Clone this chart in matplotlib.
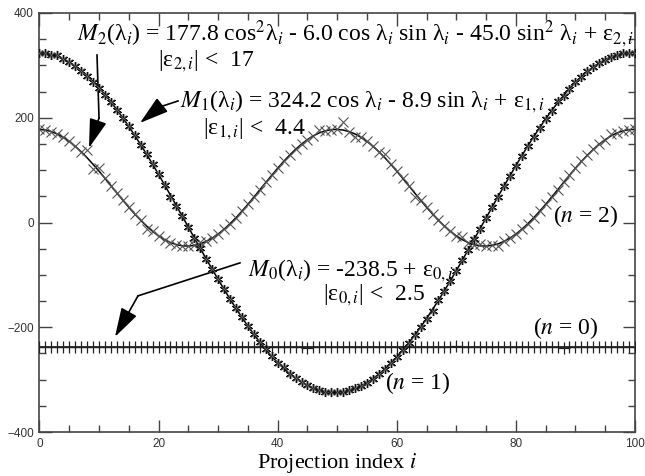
import numpy as np
import matplotlib
matplotlib.use("Agg")
import matplotlib.pyplot as plt

# ---------------- data ----------------
idx = list(range(0, 101))

m1_fit = [324.2, 323.0, 320.5, 316.8, 311.8, 305.6, 298.2, 289.6, 279.8, 269.0,
          257.1, 244.1, 230.2, 215.4, 199.8, 183.4, 166.2, 148.4, 130.0, 111.1,
          91.7, 72.0, 52.0, 31.8, 11.5, -8.9, -29.2, -49.5, -69.5, -89.3,
          -108.6, -127.6, -146.1, -164.0, -181.2, -197.8, -213.5, -228.4, -242.4, -255.5,
          -267.5, -278.5, -288.4, -297.1, -304.7, -311.1, -316.2, -320.1, -322.8, -324.1,
          -324.2, -323.0, -320.5, -316.8, -311.8, -305.6, -298.2, -289.6, -279.8, -269.0,
          -257.1, -244.1, -230.2, -215.4, -199.8, -183.4, -166.2, -148.4, -130.0, -111.1,
          -91.7, -72.0, -52.0, -31.8, -11.5, 8.9, 29.2, 49.5, 69.5, 89.3,
          108.6, 127.6, 146.1, 164.0, 181.2, 197.8, 213.5, 228.4, 242.4, 255.5,
          267.5, 278.5, 288.4, 297.1, 304.7, 311.1, 316.2, 320.1, 322.8, 324.1, 324.2]

m2_fit = [177.8, 176.5, 173.6, 168.9, 162.6, 154.8, 145.6, 135.1, 123.6, 111.1,
          98.0, 84.3, 70.4, 56.4, 42.6, 29.1, 16.3, 4.2, -6.9, -16.9,
          -25.5, -32.7, -38.3, -42.2, -44.5, -45.0, -43.7, -40.8, -36.1, -29.8,
          -22.0, -12.8, -2.3, 9.2, 21.7, 34.8, 48.5, 62.4, 76.4, 90.2,
          103.7, 116.6, 128.6, 139.7, 149.7, 158.3, 165.5, 171.1, 175.1, 177.3,
          177.8, 176.5, 173.6, 168.9, 162.6, 154.8, 145.6, 135.1, 123.6, 111.1,
          98.0, 84.3, 70.4, 56.4, 42.6, 29.1, 16.3, 4.2, -6.9, -16.9,
          -25.5, -32.7, -38.3, -42.2, -44.5, -45.0, -43.7, -40.8, -36.1, -29.8,
          -22.0, -12.8, -2.3, 9.2, 21.7, 34.8, 48.5, 62.4, 76.4, 90.2,
          103.7, 116.6, 128.6, 139.7, 149.7, 158.3, 165.5, 171.1, 175.1, 177.3, 177.8]

m0_fit = [-238.5] * 101

# residuals of the measured points (only the visible ones)
m2_resid = {8: 14.0, 9: -9.0, 10: 6.0, 18: -5.0, 27: 4.0, 47: 6.0, 51: 15.0,
            53: -6.0, 58: 8.0, 63: -7.0, 71: 5.0, 74: 3.0, 77: -5.0, 96: 4.0}
m1_resid = {3: 3.0, 22: -3.0, 41: 2.0, 66: -2.5, 87: 3.0}
m0_resid = {17: 1.5, 45: -1.5, 70: 2.0, 88: -1.0}

m2_pts = [v + m2_resid.get(i, 0.0) for i, v in zip(idx, m2_fit)]
m1_pts = [v + m1_resid.get(i, 0.0) for i, v in zip(idx, m1_fit)]
m0_pts = [v + m0_resid.get(i, 0.0) for i, v in zip(idx, m0_fit)]

# ---------------- figure ----------------
plt.rcParams['mathtext.fontset'] = 'stix'
SERIF = ['Liberation Serif', 'DejaVu Serif']
SANS = ['Liberation Sans', 'DejaVu Sans']

fig = plt.figure(figsize=(6.45, 4.76), dpi=100)
ax = fig.add_axes([0.0612, 0.0924, 0.9233, 0.8803])

ax.plot(idx, m0_fit, color='black', lw=1.1, zorder=2)
ax.plot(idx, m0_pts, ls='none', marker='+', ms=8, mew=0.9, color='#222222', zorder=3)

ax.plot(idx, m2_fit, color='black', lw=1.1, zorder=2)
ax.plot(idx, m2_pts, ls='none', marker='x', ms=6.5, mew=0.8, color='#555555', zorder=3)

ax.plot(idx, m1_fit, color='black', lw=1.1, zorder=2)
ax.plot(idx, m1_pts, ls='none', marker=(6, 2, 0), ms=6.5, mew=1.0, color='#111111', zorder=4)
ax.plot(idx, m1_pts, ls='none', marker='x', ms=5, mew=0.6, color='#666666', zorder=4)

ax.set_xlim(0, 100)
ax.set_ylim(-400, 400)
ax.set_xticks([0, 20, 40, 60, 80, 100])
ax.set_xticks(np.arange(0, 101, 5), minor=True)
ax.set_yticks([-400, -200, 0, 200, 400])
ax.set_yticks(np.arange(-400, 401, 50), minor=True)
ax.set_yticklabels(['\u2212400', '\u2212200', '0', '200', '400'])
ax.tick_params(which='both', direction='in', top=True, right=True,
               color='#444444', width=1.0)
ax.tick_params(which='major', length=9, labelsize=8.5, pad=4)
ax.tick_params(which='minor', length=5)
for lab in ax.get_xticklabels() + ax.get_yticklabels():
    lab.set_family(SANS)
    lab.set_color('#333333')
for sp in ax.spines.values():
    sp.set_color('#444444')
    sp.set_linewidth(1.2)

ax.set_xlabel(r'Projection index $i$', family=SERIF, fontsize=16, labelpad=1)

fs = 17
ax.text(6.3, 346.6,
        r'$M_2$(λ$_i$) = 177.8 cos$^2$λ$_i$ - 6.0 cos λ$_i$ sin λ$_i$ - 45.0 sin$^2$ λ$_i$ + ε$_{2,i}$',
        family=SERIF, fontsize=fs, va='baseline', ha='left')
ax.text(19.9, 298.9, r'|ε$_{2,i}$| <  17', family=SERIF, fontsize=fs, va='baseline', ha='left')
ax.text(23.6, 220.6,
        r'$M_1$(λ$_i$) = 324.2 cos λ$_i$ - 8.9 sin λ$_i$ + ε$_{1,i}$',
        family=SERIF, fontsize=fs, va='baseline', ha='left')
ax.text(27.4, 169.1, r'|ε$_{1,i}$| <  4.4', family=SERIF, fontsize=fs, va='baseline', ha='left')
ax.text(35.0, -101.9, r'$M_0$(λ$_i$) = -238.5 + ε$_{0,i}$',
        family=SERIF, fontsize=fs, va='baseline', ha='left')
ax.text(47.6, -147.7, r'|ε$_{0,i}$| <  2.5', family=SERIF, fontsize=fs, va='baseline', ha='left')
ax.text(86.2, 1.1, r'($n$ = 2)', family=SERIF, fontsize=fs, va='baseline', ha='left')
ax.text(82.9, -212.6, r'($n$ = 0)', family=SERIF, fontsize=fs, va='baseline', ha='left')
ax.text(58.0, -317.6, r'($n$ = 1)', family=SERIF, fontsize=fs, va='baseline', ha='left')

aprops = dict(arrowstyle='-|>,head_length=1.0,head_width=0.3', mutation_scale=18,
              color='black', lw=1.2, shrinkA=0, shrinkB=0)
# M2 arrow
ax.plot([9.66, 10.0], [319.8, 199.6], color='black', lw=1.2)
ax.annotate('', xy=(8.31, 142.4), xytext=(10.0, 199.6), arrowprops=aprops)
# M1 arrow
ax.plot([23.26, 20.2], [232.0, 220.6], color='black', lw=1.2)
ax.annotate('', xy=(16.88, 190.1), xytext=(20.2, 220.6), arrowprops=aprops)
# M0 arrow
ax.plot([33.67, 16.54], [-77.1, -140.1], color='black', lw=1.2)
ax.annotate('', xy=(12.68, -218.3), xytext=(16.54, -140.1), arrowprops=aprops)

fig.savefig('out.png', dpi=100)
